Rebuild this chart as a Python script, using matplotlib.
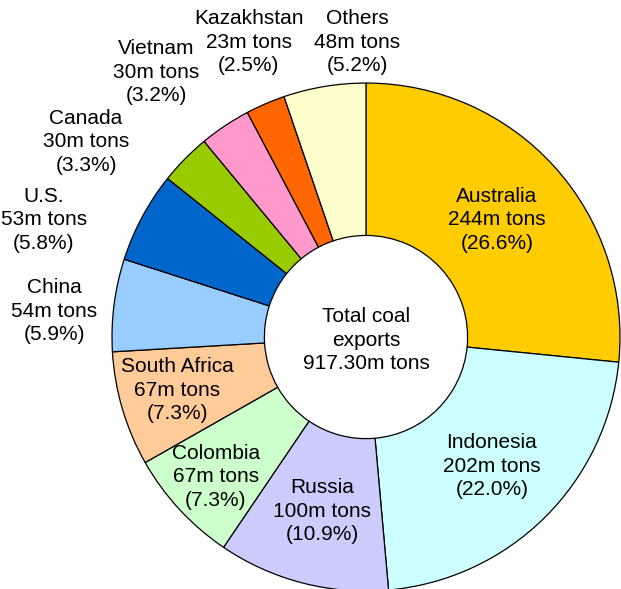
"""Donut chart: world coal exports by country."""

import matplotlib

matplotlib.use("Agg")
import matplotlib.pyplot as plt

# data (m tons), clockwise from 12 o'clock
countries = [
    "Australia", "Indonesia", "Russia", "Colombia", "South Africa",
    "China", "U.S.", "Canada", "Vietnam", "Kazakhstan", "Others",
]
exports_mt = [244, 202, 100, 67, 67, 54, 53, 30, 30, 23, 48]
shares_pct = ["26.6", "22.0", "10.9", "7.3", "7.3", "5.9", "5.8", "3.3", "3.2", "2.5", "5.2"]
total_label = "917.30m tons"

colors = [
    "#FFCC00", "#CCFFFF", "#CCCCFF", "#CCFFCC", "#FFCC99",
    "#99CCFF", "#0066CC", "#99CC00", "#FF99CC", "#FF6600", "#FFFFCC",
]

# label centres in data units (pie radius = 1)
label_xy = [
    (0.516, 0.461), (0.496, -0.508), (-0.173, -0.685), (-0.591, -0.551),
    (-0.744, -0.209), (-1.228, 0.102), (-1.268, 0.461), (-1.102, 0.768),
    (-0.827, 1.043), (-0.461, 1.161), (-0.035, 1.161),
]

plt.rcParams["font.family"] = ["Liberation Sans", "DejaVu Sans"]

fig = plt.figure(figsize=(6.21, 5.89), dpi=100)
ax = fig.add_axes([0, 0, 1, 1])
ax.pie(
    exports_mt,
    colors=colors,
    startangle=90,
    counterclock=False,
    radius=1.0,
    wedgeprops=dict(width=0.6, edgecolor="black", linewidth=0.9),
)
ax.set_xlim(-1.441, 1.004)
ax.set_ylim(-0.992, 1.327)
ax.set_aspect("auto")
ax.axis("off")

for name, val, pct, (x, y) in zip(countries, exports_mt, shares_pct, label_xy):
    ax.text(x, y, f"{name}\n{val}m tons\n({pct}%)", ha="center", va="center",
            fontsize=15, linespacing=1.3, color="black")

ax.text(0, -0.012, f"Total coal\nexports\n{total_label}", ha="center", va="center",
        fontsize=15, linespacing=1.3, color="black")

fig.savefig("out.png", dpi=100)
